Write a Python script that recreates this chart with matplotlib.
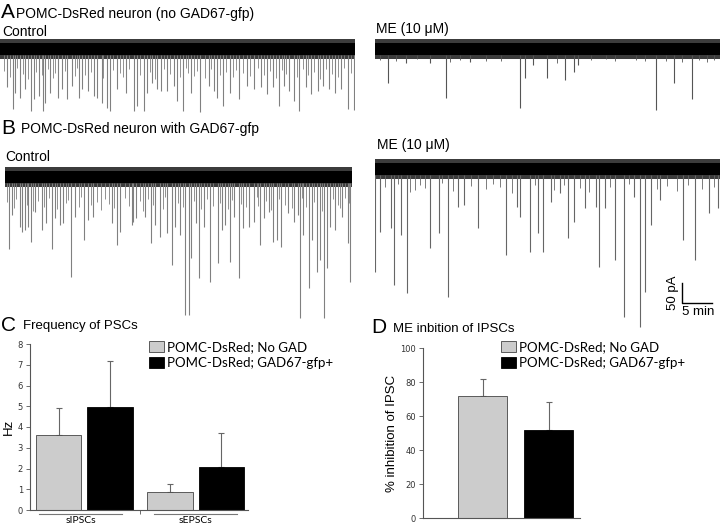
import numpy as np
import matplotlib
matplotlib.use("Agg")
from matplotlib import pyplot as plt
from matplotlib.patches import Patch

W, H = 720, 528

# ---- traces (time in min, event amplitude in pA) ----
a_ctrl_t = [1.1, 2.2, 2.5, 3.3, 4.2, 5.1, 5.6, 6.4, 7.1, 7.5, 8.3, 9.7, 10.3, 11.1, 11.9,
            13.1, 13.6, 14.6, 15.6, 16.1, 16.9, 17.7, 18.2, 19.4, 21.0, 22.2, 22.8, 23.9,
            24.4, 25.3, 26.1, 26.7, 27.7, 28.9, 29.4, 30.4, 31.7, 33.2, 34.7, 35.6, 36.1,
            37.1, 38.3, 39.7, 41.1, 42.2, 43.3, 44.4, 45.3, 46.4, 47.2, 48.1, 48.9, 49.7,
            50.8, 51.7, 52.8, 53.6, 54.7, 55.6, 56.7, 57.8, 58.9]
a_ctrl_a = [96, 151, 109, 122, 101, 155, 126, 118, 155, 134, 109, 122, 101, 126, 92,
            122, 101, 105, 118, 122, 134, 147, 155, 101, 109, 155, 143, 155,
            109, 84, 101, 105, 105, 92, 130, 155, 109, 158, 92, 105, 122,
            143, 109, 126, 92, 101, 96, 113, 96, 143, 92, 105, 130, 155,
            96, 113, 105, 92, 101, 109, 101, 151, 152]
a_ctrl_small_t = [0.6, 1.6, 2.9, 3.8, 4.7, 6.0, 6.9, 8.0, 8.8, 9.2, 10.8, 12.4, 12.8, 14.1,
                  15.1, 17.2, 18.8, 19.9, 20.5, 21.5, 23.3, 24.9, 25.8, 27.2, 28.3, 29.9,
                  30.9, 31.2, 32.3, 32.8, 34.1, 35.1, 36.6, 37.6, 38.8, 39.2, 40.4, 41.6,
                  42.8, 43.8, 44.9, 45.8, 46.9, 47.6, 49.3, 50.3, 51.2, 52.2, 53.2, 54.2,
                  55.1, 56.1, 57.2, 58.4]
a_ctrl_small_a = [55, 70, 48, 62, 75, 58, 66, 50, 72, 60, 54, 68, 47, 64,
                  58, 73, 52, 61, 69, 49, 66, 57, 74, 51, 63, 70,
                  48, 59, 67, 55, 72, 50, 64, 58, 71, 53, 60, 68,
                  47, 65, 56, 73, 52, 62, 69, 50, 66, 57, 74, 51,
                  63, 70, 48, 60]

a_me_t = [2.1, 5.2, 9.2, 11.8, 15.8, 24.2, 25.0, 26.3, 28.6, 31.7, 33.1, 33.9, 46.9, 49.9, 52.9]
a_me_a = [84, 36, 34, 123, 32, 148, 73, 40, 73, 78, 57, 40, 153, 86, 126]
a_me_small_t = [0.8, 3.5, 7.0, 12.5, 14.2, 18.5, 21.0, 30.3, 36.0, 38.5, 40.0, 43.5, 45.0,
                48.5, 51.1, 54.0, 55.3, 56.5]
a_me_small_a = [28, 30, 26, 32, 27, 29, 31, 36, 28, 26, 30, 27, 29, 31, 32, 27, 32, 28]

b_ctrl_t = [0.6, 1.1, 2.5, 2.9, 3.3, 3.9, 4.3, 5.0, 6.1, 6.9, 7.9, 8.3, 9.1, 9.7, 11.0,
            11.7, 13.1, 13.9, 14.7, 17.8, 18.6, 19.2, 21.1, 21.4, 21.9, 23.3, 24.3, 25.0,
            25.8, 27.0, 27.8, 28.3, 29.2, 30.0, 30.6, 31.0, 31.8, 32.3, 33.1, 34.1, 35.4,
            36.1, 36.6, 37.5, 38.1, 38.9, 39.7, 40.7, 41.4, 42.5, 43.1, 43.9, 44.7, 45.3,
            46.0, 47.2, 48.1, 48.8, 49.2, 49.7, 50.6, 51.1, 51.9, 52.5, 53.1, 53.6, 54.2,
            55.0, 56.1, 57.1, 57.5]
b_ctrl_a = [181, 95, 124, 137, 133, 124, 162, 87, 133, 116, 181, 103, 120, 116, 249,
            99, 158, 108, 99, 116, 170, 137, 120, 112, 103, 99, 164, 120,
            149, 141, 220, 124, 145, 345, 345, 203, 116, 253, 124, 262, 216,
            133, 120, 212, 99, 253, 128, 124, 112, 170, 103, 87, 162, 158,
            174, 91, 112, 95, 352, 145, 278, 158, 237, 208, 352, 228, 124,
            133, 99, 166, 262]
b_ctrl_small_t = [0.3, 1.5, 1.9, 3.6, 4.7, 5.5, 6.5, 7.3, 8.7, 10.2, 10.5, 12.3, 12.6, 14.3,
                  15.3, 16.0, 16.6, 17.3, 18.2, 20.0, 20.6, 22.5, 23.0, 23.8, 24.7, 26.3,
                  26.6, 28.8, 29.6, 31.4, 32.7, 33.6, 34.6, 35.8, 37.1, 37.8, 39.3, 40.2,
                  41.9, 42.1, 43.5, 44.3, 45.7, 46.6, 47.8, 49.5, 50.2, 51.5, 52.8, 54.6,
                  55.4, 55.8, 56.6, 57.3]
b_ctrl_small_a = [62, 78, 55, 70, 84, 60, 74, 52, 80, 66, 58, 76, 50, 71,
                  63, 82, 56, 68, 77, 53, 73, 61, 85, 54, 69, 79,
                  51, 65, 75, 59, 81, 55, 72, 64, 79, 57, 67, 76,
                  50, 73, 60, 83, 56, 70, 77, 53, 74, 62, 84, 55,
                  71, 78, 52, 66]

b_me_t = [0.0, 0.8, 2.6, 3.2, 4.4, 5.3, 9.2, 10.6, 12.1, 13.9, 14.8, 17.2, 21.9, 23.6,
          24.2, 25.8, 27.2, 28.0, 29.4, 30.8, 32.1, 33.1, 35.0, 36.9, 37.4, 38.3, 40.0,
          41.5, 43.2, 44.2, 45.0, 46.0, 47.5, 51.4, 53.3, 55.6, 57.2]
b_me_a = [257, 157, 148, 290, 165, 311, 198, 161, 319, 94, 90, 148, 215, 94,
          119, 207, 161, 207, 82, 61, 173, 132, 98, 94, 244, 98, 228,
          369, 69, 394, 307, 140, 78, 178, 228, 111, 98]
b_me_small_t = [1.6, 3.8, 5.8, 6.6, 7.5, 8.3, 11.2, 13.0, 16.0, 18.5, 19.6, 20.8, 22.8, 26.6,
                29.9, 31.5, 34.2, 35.6, 39.2, 42.4, 47.0, 48.6, 50.3, 52.2, 54.5, 56.5]
b_me_small_a = [45, 38, 57, 52, 40, 48, 36, 55, 42, 50, 38, 46, 60, 41,
                53, 39, 47, 58, 44, 37, 51, 43, 56, 40, 49, 45]

# ---- bar data ----
groups = ["sIPSCs", "sEPSCs"]
freq_nogad = [3.6, 0.85]
freq_nogad_err = [1.3, 0.4]
freq_gad = [4.95, 2.08]
freq_gad_err = [2.25, 1.64]

inhib = [72, 52]
inhib_err = [10, 16]

legend_labels = ["POMC-DsRed; No GAD", "POMC-DsRed; GAD67-gfp+"]
light = "#cccccc"

fig = plt.figure(figsize=(7.2, 5.28), dpi=100)


def box(x0, y0, x1, y1):
    return [x0 / W, 1 - y1 / H, (x1 - x0) / W, (y1 - y0) / H]


def ftext(x, y, s, **kw):
    kw.setdefault("family", "Liberation Sans")
    fig.text(x / W, 1 - y / H, s, va="baseline", **kw)


def trace(x0, x1, center, t_end, big_t, big_a, small_t, small_a, depth, col):
    # 2.5 pA per pixel, band top 40 pA above the centre
    ax = fig.add_axes(box(x0, center - 16, x1, center + depth / 2.5))
    ax.fill_between([0, t_end], -25, 25, color="#3c3c3c", lw=0)
    ax.fill_between([0, t_end], -16, 16, color="black", lw=0)
    ax.vlines(small_t, -16, -np.array(small_a), color=col, lw=0.6)
    ax.vlines(big_t, -16, -np.array(big_a), color=col, lw=0.8)
    ax.set_xlim(0, t_end)
    ax.set_ylim(-depth, 40)
    ax.axis("off")
    return ax


trace(0, 355, 49, 59.0, a_ctrl_t, a_ctrl_a, a_ctrl_small_t, a_ctrl_small_a, 160, "#808080")
trace(375, 720, 49, 57.5, a_me_t, a_me_a, a_me_small_t, a_me_small_a, 160, "#555555")
trace(5, 352, 177, 57.8, b_ctrl_t, b_ctrl_a, b_ctrl_small_t, b_ctrl_small_a, 400, "#808080")
axb = trace(375, 720, 169, 57.5, b_me_t, b_me_a, b_me_small_t, b_me_small_a, 400, "#666666")

# scale bar: 50 pA / 5 min
axb.plot([51.2, 51.2, 56.2], [-285, -335, -335], color="black", lw=1, clip_on=False)
axb.text(49.6, -310, "50 pA", rotation=90, ha="center", va="center", fontsize=9.5,
         family="Liberation Sans")
axb.text(53.8, -342, "5 min", ha="center", va="top", fontsize=9.5, family="Liberation Sans")

ftext(1, 18, "A", fontsize=15)
ftext(16, 18, "POMC-DsRed neuron (no GAD67-gfp)", fontsize=10)
ftext(2, 36, "Control", fontsize=10)
ftext(376, 33, "ME (10 \u03bcM)", fontsize=10)
ftext(1, 134, "B", fontsize=15)
ftext(21, 133, "POMC-DsRed neuron with GAD67-gfp", fontsize=10)
ftext(5, 161, "Control", fontsize=10)
ftext(377, 149, "ME (10 \u03bcM)", fontsize=10)
ftext(1, 331, "C", fontsize=15)
ftext(23, 329, "Frequency of PSCs", fontsize=9.5)
ftext(371, 333, "D", fontsize=15)
ftext(393, 332, "ME inbition of IPSCs", fontsize=9.5)


def style(ax):
    for s in ["top", "right"]:
        ax.spines[s].set_visible(False)
    for s in ["left", "bottom"]:
        ax.spines[s].set_color("#555555")
        ax.spines[s].set_linewidth(0.8)
    ax.tick_params(axis="y", labelsize=6, length=3, width=0.6, color="#555555",
                   labelcolor="#333333", pad=2)


def legend(ax, x, y):
    handles = [Patch(facecolor=light, edgecolor="#444444", lw=0.6),
               Patch(facecolor="black", edgecolor="black", lw=0.6)]
    ax.legend(handles, legend_labels, loc="upper left", frameon=False,
              bbox_to_anchor=(x / W, 1 - y / H), bbox_transform=fig.transFigure,
              prop={"family": "Lato", "size": 9.5}, handlelength=1.1, handleheight=0.95,
              handletextpad=0.25, labelspacing=0.25, borderpad=0, borderaxespad=0)


# ---- panel C ----
axc = fig.add_axes(box(30, 344, 248, 510))
x = np.arange(len(groups))
bw, off = 0.408, 0.231
axc.bar(x - off, freq_nogad, bw, color=light, edgecolor="#444444", lw=0.6, zorder=2)
axc.bar(x + off, freq_gad, bw, color="black", edgecolor="black", lw=0.6, zorder=2)
axc.errorbar(x - off, freq_nogad, yerr=[np.zeros(2), freq_nogad_err], fmt="none",
             ecolor="#666666", elinewidth=0.8, capsize=2, capthick=0.8, zorder=1)
axc.errorbar(x + off, freq_gad, yerr=[np.zeros(2), freq_gad_err], fmt="none",
             ecolor="#666666", elinewidth=0.8, capsize=2, capthick=0.8, zorder=1)
axc.set_xlim(-0.487, 1.469)
axc.set_ylim(0, 8)
axc.set_yticks(range(0, 9))
axc.set_xticks([0.5])
axc.set_xticklabels([""])
axc.tick_params(axis="x", length=3, width=0.6, color="#555555")
style(axc)
axc.set_ylabel("Hz", family="Liberation Sans", fontsize=9.5, labelpad=2)
for xs, xe, xc, name in [(-0.406, 0.338, -0.03, groups[0]), (0.626, 1.369, 1.0, groups[1])]:
    axc.plot([xs, xe], [-0.18, -0.18], color="#777777", lw=0.8, clip_on=False)
    axc.text(xc, -0.3, name, ha="center", va="top", family="Lato", fontsize=7.5)
legend(axc, 149, 341)

# ---- panel D ----
axd = fig.add_axes(box(423, 348, 580, 518))
xd = np.arange(2)
axd.bar(xd, inhib, 0.742, color=[light, "black"], edgecolor=["#444444", "black"], lw=0.6,
        zorder=2)
axd.errorbar(xd, inhib, yerr=[np.zeros(2), inhib_err], fmt="none", ecolor="#666666",
             elinewidth=0.8, capsize=2, capthick=0.8, zorder=1)
axd.set_xlim(-0.902, 1.477)
axd.set_ylim(0, 100)
axd.set_yticks(range(0, 101, 20))
axd.set_xticks([])
style(axd)
axd.set_ylabel("% inhibition of IPSC", family="Liberation Sans", fontsize=9.5, labelpad=2)
legend(axd, 501, 341)

fig.savefig("out.png", dpi=100)
